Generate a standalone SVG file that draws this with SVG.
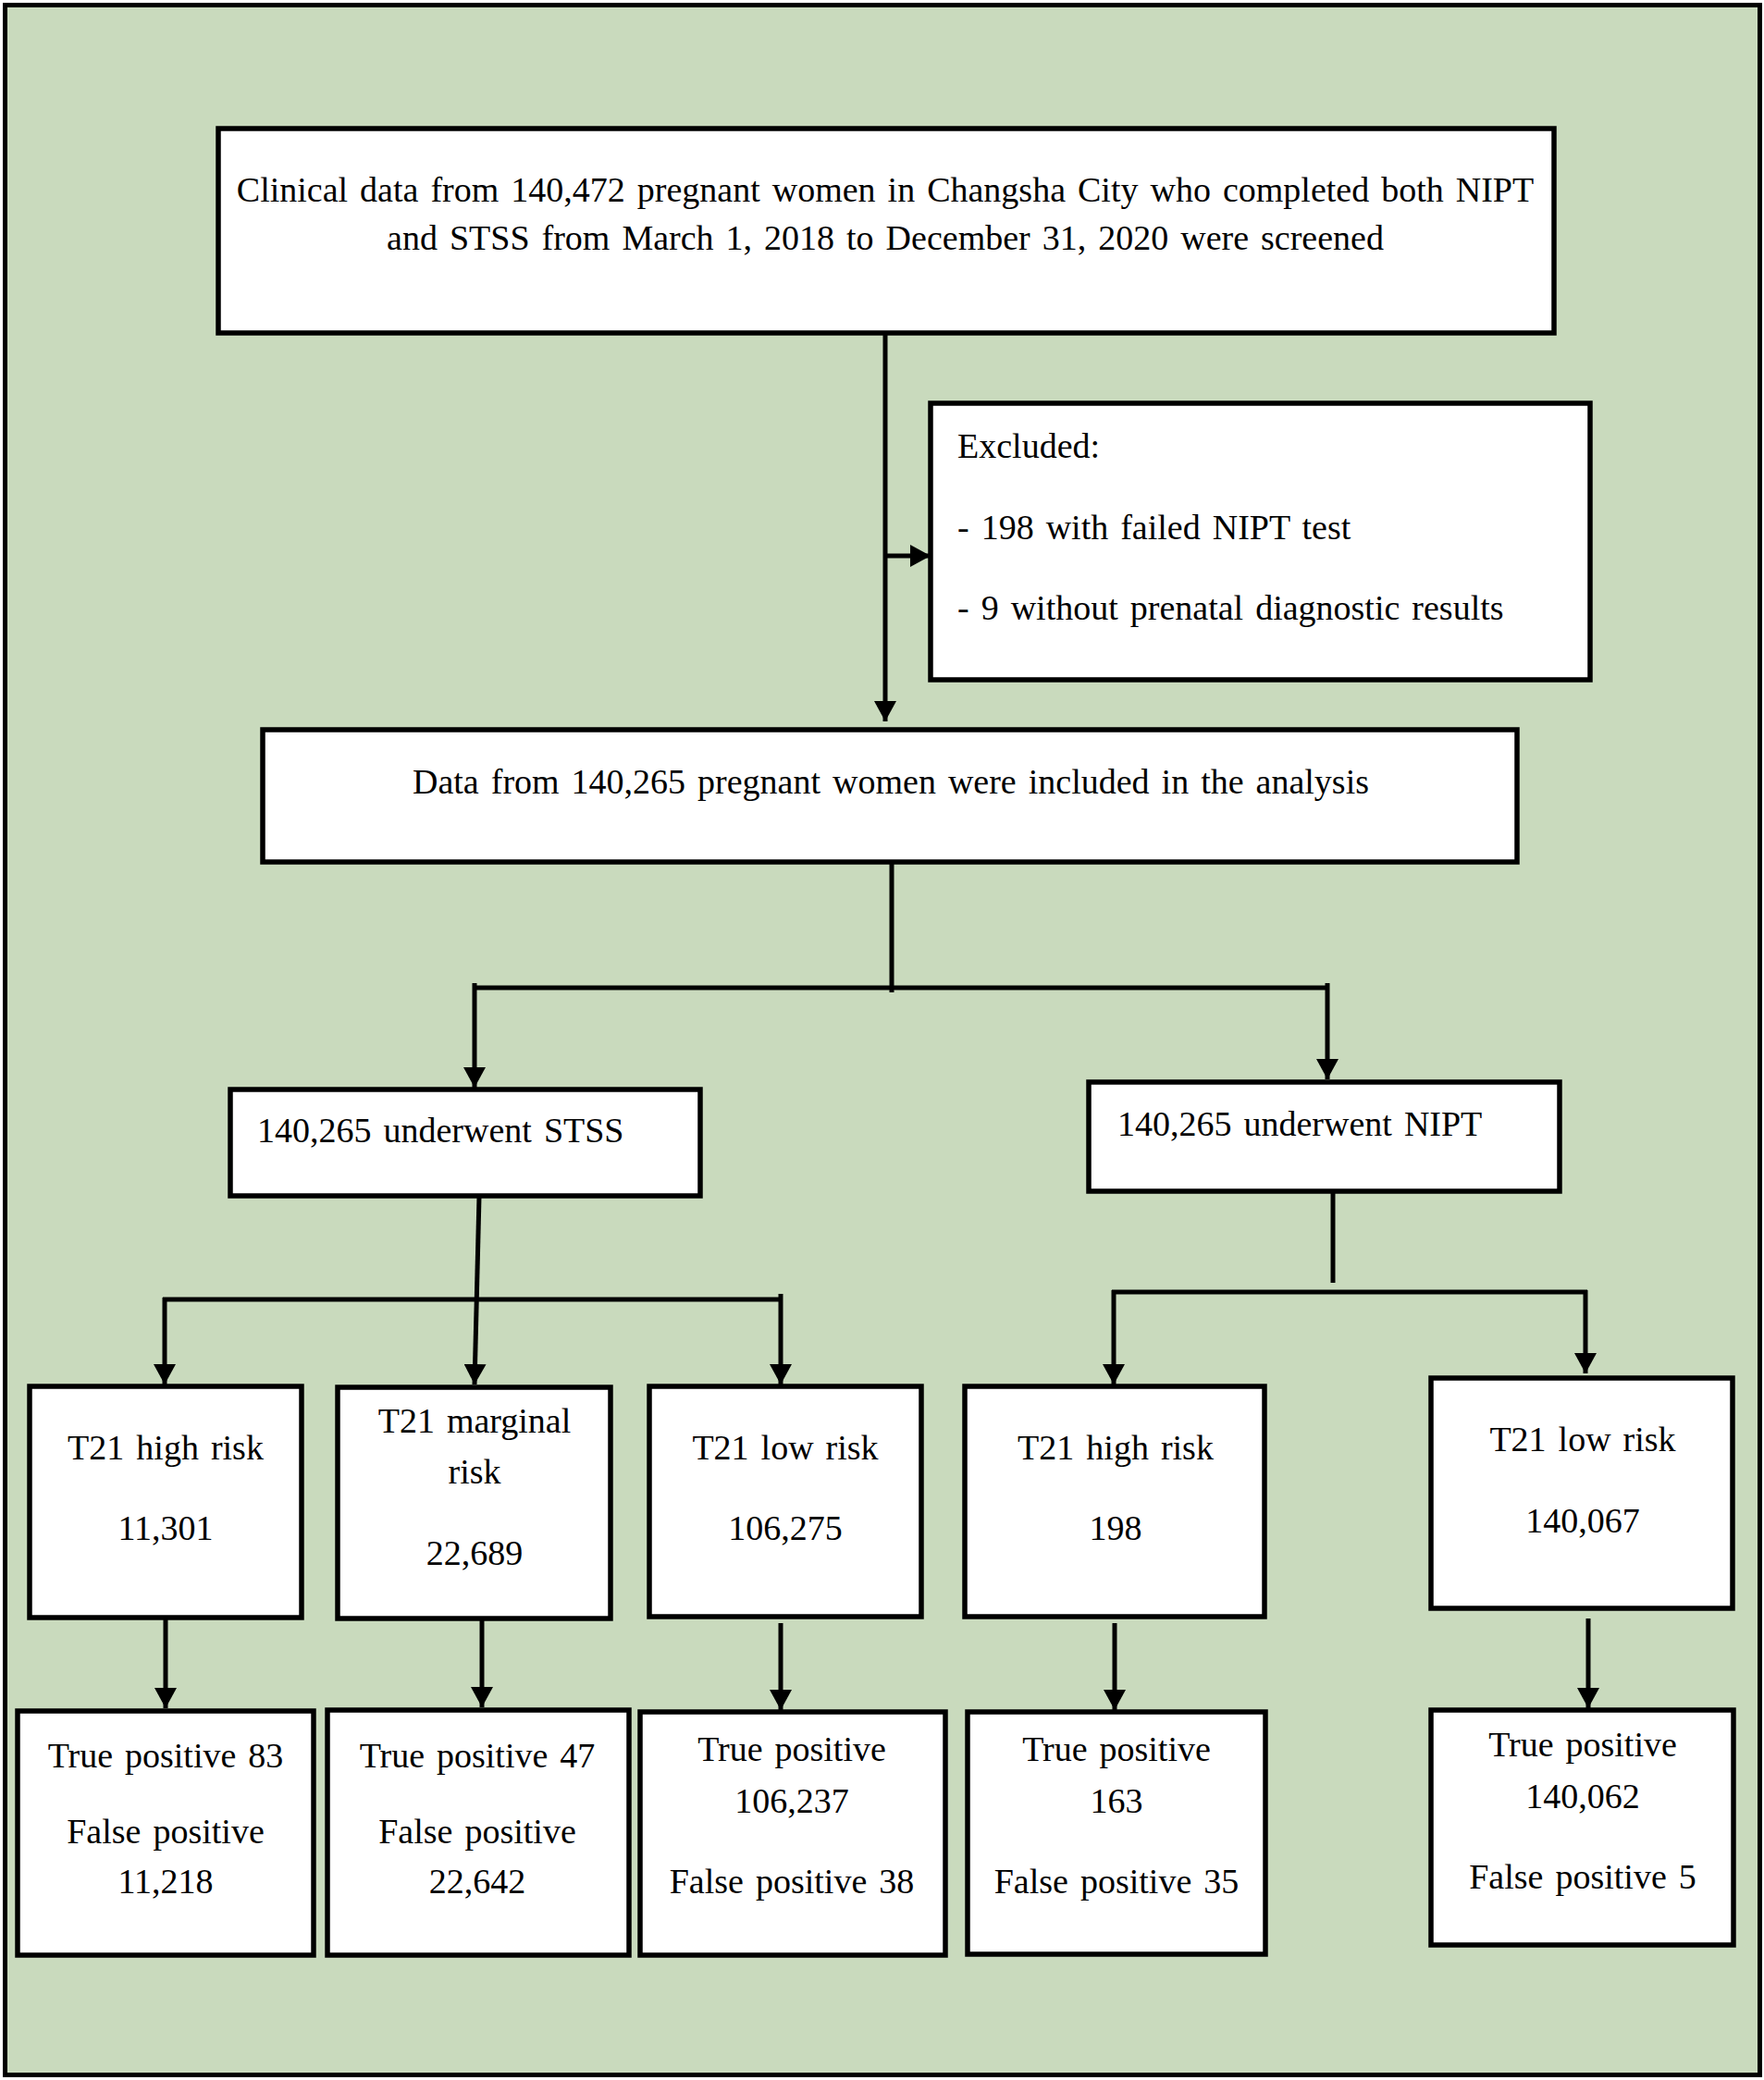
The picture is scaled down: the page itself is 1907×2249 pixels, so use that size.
<svg xmlns="http://www.w3.org/2000/svg" width="1907" height="2249" viewBox="0 0 1907 2249">
<style>
.box{fill:#ffffff;stroke:#000000;stroke-width:5.5}
.t{font-family:"Liberation Serif","Times New Roman",serif;font-size:38px;fill:#000000;word-spacing:3.5px}
.c{text-anchor:middle}
.ln{stroke:#000000;stroke-width:5;fill:none}
</style>
<defs>
<marker id="ah" viewBox="0 0 22 24" refX="22" refY="12" markerWidth="22" markerHeight="24" markerUnits="userSpaceOnUse" orient="auto">
<path d="M0,0 L22,12 L0,24 z" fill="#000000"/>
</marker>
</defs>
<rect x="5.5" y="5.5" width="1897" height="2238" fill="#C9DABD" stroke="#000000" stroke-width="5"/>

<g id="connectors">
<line class="ln" x1="957" y1="362" x2="957" y2="780" marker-end="url(#ah)"/>
<line class="ln" x1="957" y1="601" x2="1006" y2="601" marker-end="url(#ah)"/>
<line class="ln" x1="964" y1="933" x2="964" y2="1073"/>
<line class="ln" x1="511" y1="1068" x2="1437" y2="1068"/>
<line class="ln" x1="513" y1="1063" x2="513" y2="1176" marker-end="url(#ah)"/>
<line class="ln" x1="1435" y1="1063" x2="1435" y2="1167" marker-end="url(#ah)"/>
<line class="ln" x1="518" y1="1294" x2="513" y2="1497" marker-end="url(#ah)"/>
<line class="ln" x1="176" y1="1405" x2="846" y2="1405"/>
<line class="ln" x1="178" y1="1403" x2="178" y2="1497" marker-end="url(#ah)"/>
<line class="ln" x1="844" y1="1399" x2="844" y2="1497" marker-end="url(#ah)"/>
<line class="ln" x1="1441" y1="1290" x2="1441" y2="1387"/>
<line class="ln" x1="1202" y1="1397" x2="1716" y2="1397"/>
<line class="ln" x1="1204" y1="1395" x2="1204" y2="1497" marker-end="url(#ah)"/>
<line class="ln" x1="1714" y1="1395" x2="1714" y2="1485" marker-end="url(#ah)"/>
<line class="ln" x1="179" y1="1750" x2="179" y2="1847" marker-end="url(#ah)"/>
<line class="ln" x1="521" y1="1751" x2="521" y2="1846" marker-end="url(#ah)"/>
<line class="ln" x1="844" y1="1755" x2="844" y2="1849" marker-end="url(#ah)"/>
<line class="ln" x1="1205" y1="1755" x2="1205" y2="1849" marker-end="url(#ah)"/>
<line class="ln" x1="1717" y1="1750" x2="1717" y2="1847" marker-end="url(#ah)"/>
</g>

<g id="n-top">
<rect class="box" x="236" y="139" width="1444" height="221"/>
<text class="t c" x="957" y="218">Clinical data from 140,472 pregnant women in Changsha City who completed both NIPT</text>
<text class="t c" x="957" y="270">and STSS from March 1, 2018 to December 31, 2020 were screened</text>
</g>

<g id="n-excluded">
<rect class="box" x="1006" y="436" width="713" height="299"/>
<text class="t" x="1035" y="495">Excluded:</text>
<text class="t" x="1035" y="583">- 198 with failed NIPT test</text>
<text class="t" x="1035" y="670">- 9 without prenatal diagnostic results</text>
</g>

<g id="n-data">
<rect class="box" x="284" y="789" width="1356" height="143"/>
<text class="t c" x="963" y="858">Data from 140,265 pregnant women were included in the analysis</text>
</g>

<g id="n-stss">
<rect class="box" x="249" y="1178" width="508" height="115"/>
<text class="t" x="278" y="1235">140,265 underwent STSS</text>
</g>

<g id="n-nipt">
<rect class="box" x="1177" y="1170" width="509" height="118"/>
<text class="t" x="1208" y="1228">140,265 underwent NIPT</text>
</g>

<g id="n-stss-high">
<rect class="box" x="32" y="1499" width="294" height="250"/>
<text class="t c" x="179" y="1578">T21 high risk</text>
<text class="t c" x="179" y="1665">11,301</text>
</g>

<g id="n-stss-marginal">
<rect class="box" x="365" y="1500" width="295" height="250"/>
<text class="t c" x="513" y="1549">T21 marginal</text>
<text class="t c" x="513" y="1604">risk</text>
<text class="t c" x="513" y="1692">22,689</text>
</g>

<g id="n-stss-low">
<rect class="box" x="702" y="1499" width="294" height="249"/>
<text class="t c" x="849" y="1578">T21 low risk</text>
<text class="t c" x="849" y="1665">106,275</text>
</g>

<g id="n-nipt-high">
<rect class="box" x="1043" y="1499" width="324" height="249"/>
<text class="t c" x="1206" y="1578">T21 high risk</text>
<text class="t c" x="1206" y="1665">198</text>
</g>

<g id="n-nipt-low">
<rect class="box" x="1547" y="1490" width="326" height="249"/>
<text class="t c" x="1711" y="1569">T21 low risk</text>
<text class="t c" x="1711" y="1657">140,067</text>
</g>

<g id="n-r1">
<rect class="box" x="19" y="1850" width="320" height="264"/>
<text class="t c" x="179" y="1911">True positive 83</text>
<text class="t c" x="179" y="1993">False positive</text>
<text class="t c" x="179" y="2047">11,218</text>
</g>

<g id="n-r2">
<rect class="box" x="354" y="1849" width="326" height="265"/>
<text class="t c" x="516" y="1911">True positive 47</text>
<text class="t c" x="516" y="1993">False positive</text>
<text class="t c" x="516" y="2047">22,642</text>
</g>

<g id="n-r3">
<rect class="box" x="692" y="1851" width="330" height="263"/>
<text class="t c" x="856" y="1904">True positive</text>
<text class="t c" x="856" y="1960">106,237</text>
<text class="t c" x="856" y="2047">False positive 38</text>
</g>

<g id="n-r4">
<rect class="box" x="1046" y="1851" width="322" height="262"/>
<text class="t c" x="1207" y="1904">True positive</text>
<text class="t c" x="1207" y="1960">163</text>
<text class="t c" x="1207" y="2047">False positive 35</text>
</g>

<g id="n-r5">
<rect class="box" x="1547" y="1849" width="327" height="254"/>
<text class="t c" x="1711" y="1899">True positive</text>
<text class="t c" x="1711" y="1955">140,062</text>
<text class="t c" x="1711" y="2042">False positive 5</text>
</g>
</svg>
